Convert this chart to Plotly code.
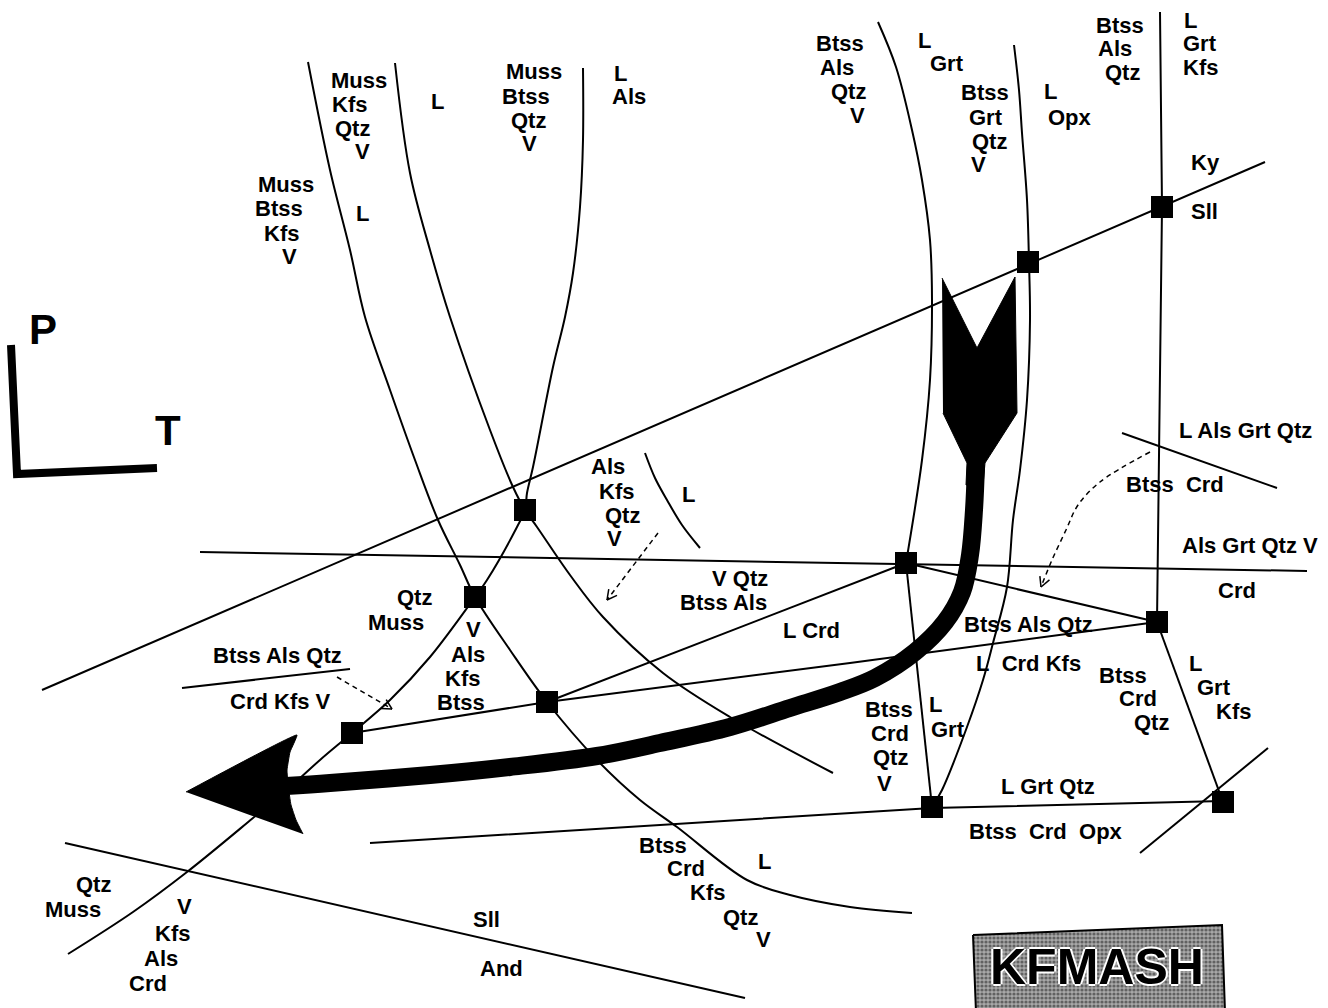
import math
import plotly.graph_objects as go

W, H = 1328, 1008

# ---------------- reaction boundaries (picture units) ----------------
curve_a_x = [308, 330, 350, 365, 390, 415, 438, 460, 475, 510, 547, 597, 640, 677, 747, 790, 850, 912]
curve_a_y = [62, 170, 250, 317, 390, 460, 520, 565, 597, 650, 702, 760, 800, 827, 880, 895, 907, 913]

curve_b_x = [395, 410, 430, 450, 490, 513, 525, 537, 570, 603, 663, 730, 833]
curve_b_y = [63, 173, 250, 317, 430, 487, 510, 527, 575, 617, 673, 717, 773]

curve_c_x = [583, 583, 580, 573, 565, 553, 533, 527, 525, 517, 487, 475, 430, 390, 352, 320, 290, 253, 187, 133, 68]
curve_c_y = [68, 140, 207, 273, 317, 367, 467, 493, 510, 527, 580, 597, 657, 700, 733, 760, 787, 818, 872, 912, 954]

curve_grt_x = [878, 896, 912, 922, 930, 932, 930, 922, 906]
curve_grt_y = [22, 67, 130, 180, 240, 300, 380, 460, 563]

curve_opx_x = [1014, 1019, 1022, 1027, 1029, 1030, 1027, 1020, 1013, 1007, 993, 983, 967, 942, 932]
curve_opx_y = [45, 90, 133, 200, 262, 320, 400, 470, 520, 587, 643, 680, 727, 790, 807]

arc_l_x = [645, 655, 667, 682, 700]
arc_l_y = [453, 478, 500, 525, 548]

straight_lines = {
    "ky_sll": ([42, 1265], [690, 162]),
    "horizontal": ([200, 1307], [552, 571]),
    "vertical": ([1160, 1162, 1157], [12, 207, 622]),
    "sq5_sq7": ([906, 932], [563, 807]),
    "sq5_sq6": ([906, 1157], [563, 622]),
    "sq4_sq5": ([547, 906], [702, 563]),
    "sq3_sq6": ([352, 547, 850, 1157], [733, 702, 663, 622]),
    "sq6_sq8": ([1157, 1223], [622, 802]),
    "short_r": ([1140, 1268], [853, 748]),
    "bottom": ([370, 932, 1223], [843, 808, 801]),
    "btss_crd": ([1122, 1277], [433, 488]),
    "crd_kfs": ([182, 350], [688, 669]),
    "sll_and": ([65, 745], [843, 998]),
}

dashed_arrows = [
    ([337, 392], [677, 709]),
    ([658, 607], [533, 600]),
    ([1150, 1100, 1078, 1066, 1052, 1041], [452, 482, 505, 530, 560, 587]),
]

# invariant points
sq_x = [525, 475, 352, 547, 906, 1157, 932, 1223, 1028, 1162]
sq_y = [510, 597, 733, 702, 563, 622, 807, 802, 262, 207]

# P-T path
path_x = [976, 974, 970, 962, 945, 915, 875, 840, 790, 730, 660, 597, 510, 430, 330, 286]
path_y = [465, 510, 555, 592, 622, 652, 678, 692, 708, 727, 743, 756, 767, 775, 783, 786]
tail_x = [942, 977, 1015, 1017, 985, 983, 966, 967, 943]
tail_y = [278, 348, 277, 413, 463, 485, 485, 463, 413]
head_x = [186, 297, 290, 287, 288, 291, 296, 303]
head_y = [792, 735, 752, 770, 785, 805, 820, 834]

# axes symbol
pt_x = [11, 17, 157]
pt_y = [345, 474, 468]

# KFMASH box
box_x = [973, 1222, 1225, 976, 973]
box_y = [935, 925, 1012, 1012, 935]

labels = [
    ("Muss", 359, 80), ("Kfs", 349, 104), ("Qtz", 352, 128), ("V", 362, 151),
    ("L", 437, 101),
    ("Muss", 286, 184), ("Btss", 279, 208), ("Kfs", 281, 233), ("V", 289, 256),
    ("L", 362, 213),
    ("Muss", 534, 71), ("Btss", 526, 96), ("Qtz", 528, 120), ("V", 529, 143),
    ("L", 620, 73), ("Als", 629, 96),
    ("Btss", 840, 43), ("Als", 837, 67), ("Qtz", 848, 91), ("V", 857, 115),
    ("L", 924, 40), ("Grt", 947, 63),
    ("Btss", 985, 92), ("Grt", 986, 117), ("Qtz", 989, 141), ("V", 978, 164),
    ("L", 1050, 91), ("Opx", 1070, 117),
    ("Btss", 1120, 25), ("Als", 1115, 48), ("Qtz", 1122, 72),
    ("L", 1190, 20), ("Grt", 1200, 43), ("Kfs", 1200, 67),
    ("Ky", 1205, 162), ("Sll", 1204, 211),
    ("Als", 608, 466), ("Kfs", 616, 491), ("Qtz", 622, 515), ("V", 614, 538),
    ("L", 688, 494),
    ("Qtz", 414, 597), ("Muss", 396, 622),
    ("V", 473, 629), ("Als", 468, 654), ("Kfs", 462, 678), ("Btss", 461, 702),
    ("V Qtz", 740, 578), ("Btss Als", 723, 602),
    ("L Crd", 811, 630),
    ("Btss Als Qtz", 277, 655), ("Crd Kfs V", 280, 701),
    ("Btss", 663, 845), ("Crd", 686, 868), ("Kfs", 707, 892), ("Qtz", 740, 917), ("V", 763, 939),
    ("L", 764, 861),
    ("Sll", 486, 919), ("And", 501, 968),
    ("Qtz", 93, 884), ("Muss", 73, 909), ("V", 184, 906), ("Kfs", 172, 933), ("Als", 161, 958), ("Crd", 148, 983),
    ("L Als Grt Qtz", 1245, 430), ("Btss\u00a0\u00a0Crd", 1175, 484), ("Als Grt Qtz V", 1250, 545), ("Crd", 1237, 590),
    ("Btss Als Qtz", 1028, 624), ("L\u00a0\u00a0Crd Kfs", 1028, 663),
    ("Btss", 1123, 675), ("Crd", 1138, 698), ("Qtz", 1151, 722),
    ("L", 1195, 663), ("Grt", 1214, 687), ("Kfs", 1233, 711),
    ("Btss", 889, 709), ("Crd", 890, 733), ("Qtz", 890, 757), ("V", 884, 783),
    ("L", 935, 704), ("Grt", 948, 729),
    ("L Grt Qtz", 1048, 786), ("Btss\u00a0\u00a0Crd\u00a0\u00a0Opx", 1046, 831),
]
axis_labels = [("P", 43, 329), ("T", 168, 430)]
title_text = "KFMASH"

FONT = "Liberation Sans"

fig = go.Figure()

def add_line(xs, ys, width=2, shape="linear", dash="solid"):
    fig.add_trace(go.Scatter(x=xs, y=ys, mode="lines", hoverinfo="skip",
                             line=dict(color="black", width=width, shape=shape, dash=dash)))

for xs, ys in [(curve_a_x, curve_a_y), (curve_b_x, curve_b_y), (curve_c_x, curve_c_y),
               (curve_grt_x, curve_grt_y), (curve_opx_x, curve_opx_y), (arc_l_x, arc_l_y)]:
    add_line(xs, ys, shape="spline")
for xs, ys in straight_lines.values():
    add_line(xs, ys)

# dashed arrows with open chevron heads
for xs, ys in dashed_arrows:
    add_line(xs, ys, width=1.5, shape="spline", dash="5px,4px")
    dx, dy = xs[-1] - xs[-2], ys[-1] - ys[-2]
    ang = math.atan2(dy, dx)
    L = 11
    wx, wy = [], []
    for s in (1, -1):
        a = ang + math.pi - s * math.radians(28)
        wx += [xs[-1] + L * math.cos(a), xs[-1], None]
        wy += [ys[-1] + L * math.sin(a), ys[-1], None]
    add_line(wx[:5], wy[:5], width=1.5)

# P-T path
add_line(path_x, path_y, width=18, shape="spline")
fig.add_trace(go.Scatter(x=tail_x, y=tail_y, mode="lines", fill="toself", fillcolor="black",
                         line=dict(color="black", width=1), hoverinfo="skip"))
fig.add_trace(go.Scatter(x=head_x, y=head_y, mode="lines", fill="toself", fillcolor="black",
                         line=dict(color="black", width=1, shape="spline", smoothing=0.3), hoverinfo="skip"))

# invariant points
fig.add_trace(go.Scatter(x=sq_x, y=sq_y, mode="markers", hoverinfo="skip",
                         marker=dict(symbol="square", size=22, color="black")))

# P-T axes symbol
add_line(pt_x, pt_y, width=8)

# KFMASH box
fig.add_trace(go.Scatter(x=box_x, y=box_y, mode="lines", fill="toself", hoverinfo="skip",
                         fillcolor="#8a8a8a",
                         fillpattern=dict(shape=".", fgcolor="#1a1a1a", bgcolor="#a8a8a8", size=4, solidity=0.5),
                         line=dict(color="black", width=2)))

ann = []
for t, x, y in labels:
    ann.append(dict(x=x, y=y, text="<b>" + t + "</b>", showarrow=False, xanchor="center", yanchor="middle",
                    font=dict(family=FONT, size=22, color="black")))
for t, x, y in axis_labels:
    ann.append(dict(x=x, y=y, text="<b>" + t + "</b>", showarrow=False, xanchor="center", yanchor="middle",
                    font=dict(family=FONT, size=42, color="black")))
ann.append(dict(x=1097, y=967, text="<b>" + title_text + "</b>", showarrow=False, xanchor="center", yanchor="middle",
                font=dict(family=FONT, size=50, color="black",
                          shadow="white 2px 0px 0px, white -2px 0px 0px, white 0px 2px 0px, white 0px -2px 0px")))

fig.update_layout(
    width=W, height=H, margin=dict(l=0, r=0, t=0, b=0),
    paper_bgcolor="white", plot_bgcolor="white", showlegend=False,
    xaxis=dict(range=[0, W], visible=False, fixedrange=True),
    yaxis=dict(range=[H, 0], visible=False, fixedrange=True),
    annotations=ann,
)
fig.write_html("out.html")
